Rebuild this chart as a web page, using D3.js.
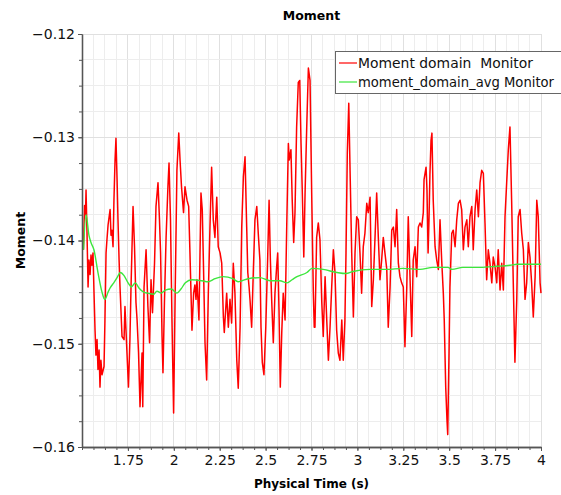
<!DOCTYPE html>
<html>
<head>
<meta charset="utf-8">
<script src="https://cdn.jsdelivr.net/npm/d3@7"></script>
<style>
  body { margin: 0; background: #fff; }
  svg { display: block; font-family: "DejaVu Sans", sans-serif; }
</style>
</head>
<body>
<svg id="chart" width="561" height="495"></svg>
<script>
// Moment monitor samples (time in s, moment)
const time = [
  1.508,1.514,1.519,1.522,1.527,1.533,1.538,1.544,1.549,1.554,1.560,1.565,1.571,1.576,1.582,1.587,1.593,1.598,1.603,1.609,
  1.620,1.625,1.631,1.636,1.642,1.653,1.658,1.663,1.669,1.674,1.680,1.685,1.691,1.696,1.702,1.707,1.718,1.729,1.734,1.745,
  1.753,1.761,1.767,1.778,1.786,1.794,1.800,1.808,1.816,1.827,1.831,1.838,1.849,1.859,1.868,1.876,1.884,1.895,1.903,1.914,
  1.922,1.928,1.936,1.941,1.949,1.958,1.968,1.974,1.982,1.990,1.999,2.007,2.017,2.027,2.034,2.042,2.053,2.061,2.072,2.081,
  2.088,2.099,2.108,2.115,2.121,2.126,2.137,2.148,2.155,2.161,2.170,2.179,2.188,2.197,2.206,2.215,2.224,2.234,2.242,2.252,
  2.261,2.270,2.275,2.288,2.297,2.306,2.315,2.324,2.333,2.343,2.351,2.361,2.370,2.379,2.388,2.397,2.403,2.410,2.415,2.424,
  2.433,2.442,2.452,2.460,2.469,2.475,2.482,2.491,2.501,2.511,2.519,2.526,2.533,2.542,2.551,2.560,2.566,2.573,2.580,2.588,
  2.596,2.606,2.615,2.624,2.629,2.638,2.645,2.653,2.660,2.669,2.678,2.686,2.693,2.700,2.708,2.715,2.724,2.733,2.742,2.751,
  2.760,2.765,2.769,2.778,2.787,2.796,2.806,2.814,2.824,2.833,2.842,2.851,2.860,2.869,2.878,2.887,2.896,2.905,2.915,2.923,
  2.932,2.938,2.945,2.953,2.960,2.969,2.978,2.987,2.996,3.005,3.014,3.023,3.032,3.041,3.051,3.059,3.069,3.078,3.087,3.096,
  3.105,3.114,3.123,3.132,3.141,3.150,3.160,3.168,3.178,3.187,3.196,3.205,3.214,3.223,3.232,3.241,3.250,3.259,3.269,3.277,
  3.287,3.296,3.304,3.314,3.323,3.332,3.341,3.350,3.359,3.363,3.374,3.379,3.385,3.390,3.395,3.401,3.406,3.413,3.423,3.432,
  3.441,3.450,3.459,3.468,3.473,3.481,3.488,3.492,3.499,3.504,3.514,3.522,3.532,3.541,3.550,3.559,3.568,3.577,3.586,3.596,
  3.604,3.613,3.623,3.631,3.641,3.650,3.659,3.668,3.677,3.686,3.695,3.704,3.713,3.722,3.732,3.740,3.750,3.759,3.767,3.777,
  3.786,3.795,3.804,3.813,3.822,3.831,3.840,3.849,3.858,3.868,3.876,3.886,3.895,3.904,3.913,3.922,3.931,3.940,3.949,3.958,
  3.968,3.977,3.985,3.995,4.000
];
const moment = [
  -0.1409,-0.1366,-0.1375,-0.1351,-0.1390,-0.1445,-0.1419,-0.1433,-0.1414,-0.1424,-0.1412,-0.1448,-0.1487,-0.1511,-0.1496,-0.1525,-0.1506,-0.1542,-0.1516,-0.1530,
  -0.1522,-0.1477,-0.1412,-0.1399,-0.1385,-0.1370,-0.1395,-0.1390,-0.1406,-0.1361,-0.1322,-0.1301,-0.1341,-0.1380,-0.1419,-0.1445,-0.1493,-0.1496,-0.1464,-0.1509,
  -0.1542,-0.1496,-0.1445,-0.1367,-0.1406,-0.1460,-0.1477,-0.1509,-0.1561,-0.1509,-0.1561,-0.1445,-0.1409,-0.1464,-0.1499,-0.1438,-0.1470,-0.1422,-0.1367,-0.1344,
  -0.1380,-0.1412,-0.1493,-0.1528,-0.1460,-0.1397,-0.1348,-0.1325,-0.1380,-0.1477,-0.1567,-0.1457,-0.1332,-0.1296,-0.1322,-0.1348,-0.1373,-0.1348,-0.1361,-0.1367,
  -0.1412,-0.1487,-0.1451,-0.1443,-0.1457,-0.1438,-0.1477,-0.1354,-0.1370,-0.1419,-0.1499,-0.1535,-0.1451,-0.1387,-0.1329,-0.1380,-0.1397,-0.1358,-0.1406,-0.1412,
  -0.1422,-0.1474,-0.1489,-0.1451,-0.1484,-0.1457,-0.1480,-0.1422,-0.1451,-0.1516,-0.1543,-0.1484,-0.1387,-0.1338,-0.1319,-0.1387,-0.1431,-0.1445,-0.1457,-0.1484,
  -0.1431,-0.1380,-0.1367,-0.1393,-0.1419,-0.1484,-0.1518,-0.1530,-0.1484,-0.1419,-0.1361,-0.1419,-0.1457,-0.1499,-0.1451,-0.1426,-0.1412,-0.1467,-0.1542,-0.1489,
  -0.1451,-0.1477,-0.1387,-0.1306,-0.1322,-0.1312,-0.1361,-0.1402,-0.1373,-0.1290,-0.1247,-0.1245,-0.1306,-0.1354,-0.1416,-0.1354,-0.1290,-0.1233,-0.1245,-0.1354,
  -0.1451,-0.1484,-0.1484,-0.1397,-0.1383,-0.1399,-0.1460,-0.1493,-0.1435,-0.1477,-0.1516,-0.1484,-0.1445,-0.1409,-0.1431,-0.1487,-0.1509,-0.1516,-0.1477,-0.1516,
  -0.1477,-0.1412,-0.1315,-0.1267,-0.1332,-0.1412,-0.1474,-0.1412,-0.1377,-0.1380,-0.1412,-0.1451,-0.1406,-0.1393,-0.1364,-0.1373,-0.1358,-0.1464,-0.1438,-0.1397,
  -0.1354,-0.1397,-0.1438,-0.1419,-0.1397,-0.1412,-0.1428,-0.1484,-0.1445,-0.1390,-0.1387,-0.1406,-0.1370,-0.1422,-0.1435,-0.1441,-0.1445,-0.1503,-0.1445,-0.1377,
  -0.1438,-0.1493,-0.1419,-0.1406,-0.1435,-0.1387,-0.1383,-0.1387,-0.1373,-0.1341,-0.1329,-0.1351,-0.1412,-0.1380,-0.1336,-0.1303,-0.1296,-0.1361,-0.1406,-0.1419,
  -0.1428,-0.1380,-0.1419,-0.1451,-0.1477,-0.1542,-0.1574,-0.1588,-0.1509,-0.1445,-0.1393,-0.1390,-0.1406,-0.1380,-0.1364,-0.1361,-0.1370,-0.1409,-0.1387,-0.1380,
  -0.1406,-0.1377,-0.1367,-0.1409,-0.1370,-0.1351,-0.1377,-0.1344,-0.1332,-0.1335,-0.1383,-0.1438,-0.1409,-0.1422,-0.1441,-0.1416,-0.1426,-0.1441,-0.1409,-0.1448,
  -0.1422,-0.1448,-0.1377,-0.1344,-0.1312,-0.1290,-0.1361,-0.1441,-0.1518,-0.1457,-0.1377,-0.1370,-0.1393,-0.1409,-0.1457,-0.1441,-0.1402,-0.1416,-0.1441,-0.1474,
  -0.1435,-0.1361,-0.1377,-0.1441,-0.1451
];

// Running average monitor
const avgTime = [
  1.508,1.522,1.538,1.549,1.565,1.587,1.609,1.624,1.642,1.653,1.673,1.691,1.709,1.729,1.751,1.769,1.790,1.810,1.836,1.859,
  1.891,1.908,1.932,1.954,1.986,2.017,2.039,2.063,2.099,2.154,2.186,2.224,2.268,2.322,2.350,2.371,2.404,2.469,2.524,2.578,
  2.617,2.644,2.671,2.725,2.753,2.813,2.889,2.938,2.976,3.069,3.161,3.248,3.341,3.412,3.466,3.493,3.515,3.575,3.668,3.760,
  3.831,3.869,4.000
];
const avgMoment = [
  -0.1409,-0.1375,-0.1395,-0.1402,-0.1409,-0.1431,-0.1450,-0.1457,-0.1450,-0.1446,-0.1441,-0.1436,-0.1431,-0.1434,-0.1441,-0.1445,-0.1441,-0.1446,-0.1450,-0.1451,
  -0.1452,-0.1449,-0.1451,-0.1448,-0.1447,-0.1451,-0.1447,-0.1441,-0.1438,-0.1439,-0.1440,-0.1437,-0.1435,-0.1437,-0.1440,-0.1439,-0.1437,-0.1436,-0.1439,-0.1439,
  -0.1441,-0.1438,-0.1435,-0.1431,-0.1427,-0.1428,-0.1431,-0.1432,-0.1430,-0.1428,-0.1428,-0.1427,-0.1428,-0.1426,-0.1426,-0.1426,-0.1428,-0.1426,-0.1426,-0.1425,
  -0.1424,-0.1423,-0.1423
];

const xTicks = [1.75, 2, 2.25, 2.5, 2.75, 3, 3.25, 3.5, 3.75, 4];
const xTickLabels = ["1.75", "2", "2.25", "2.5", "2.75", "3", "3.25", "3.5", "3.75", "4"];
const yTicks = [-0.16, -0.15, -0.14, -0.13, -0.12];
const yTickLabels = ["\u22120.16", "\u22120.15", "\u22120.14", "\u22120.13", "\u22120.12"];
const seriesNames = ["Moment domain  Monitor", "moment_domain_avg Monitor"];
const seriesColors = ["#ff0000", "#3ce63c"];

const svg = d3.select("#chart");
const m = { left: 82, right: 541, top: 34, bottom: 447 };

const x = d3.scaleLinear().domain([1.5, 4]).range([m.left, m.right]);
const y = d3.scaleLinear().domain([-0.16, -0.12]).range([m.bottom, m.top]);

const xMinor = d3.range(0, 41).map(i => 1.5 + i * 0.0625);
const yMinor = d3.range(0, 17).map(i => -0.16 + i * 0.0025);
const isMajor = (list, d) => list.some(t => Math.abs(t - d) < 1e-6);

// grid
const grid = svg.append("g");
grid.selectAll(".gx").data(xMinor).join("line")
  .attr("x1", d => x(d)).attr("x2", d => x(d))
  .attr("y1", m.top).attr("y2", m.bottom)
  .attr("stroke", d => isMajor(xTicks, d) ? "#e0e0e0" : "#ededed")
  .attr("stroke-width", 1).attr("shape-rendering", "crispEdges");
grid.selectAll(".gy").data(yMinor).join("line")
  .attr("x1", m.left).attr("x2", m.right)
  .attr("y1", d => y(d)).attr("y2", d => y(d))
  .attr("stroke", d => isMajor(yTicks, d) ? "#e0e0e0" : "#ededed")
  .attr("stroke-width", 1).attr("shape-rendering", "crispEdges");

// series
const redLine = d3.line().x((d, i) => x(time[i])).y((d, i) => y(moment[i]));
svg.append("path").datum(moment)
  .attr("d", redLine).attr("fill", "none")
  .attr("stroke", seriesColors[0]).attr("stroke-width", 1.5)
  .attr("stroke-linejoin", "round");

const greenLine = d3.line().x((d, i) => x(avgTime[i])).y((d, i) => y(avgMoment[i])).curve(d3.curveMonotoneX);
svg.append("path").datum(avgMoment)
  .attr("d", greenLine).attr("fill", "none")
  .attr("stroke", seriesColors[1]).attr("stroke-width", 1.4);

// axes
const axisColor = "#555";
const xAxis = svg.append("g").attr("transform", `translate(0,${m.bottom})`)
  .call(d3.axisBottom(x).tickValues(xTicks).tickFormat((d, i) => xTickLabels[i]).tickSize(4).tickSizeOuter(0).tickPadding(4));
const xAxisMinor = svg.append("g").attr("transform", `translate(0,${m.bottom})`)
  .call(d3.axisBottom(x).tickValues(xMinor).tickFormat("").tickSize(3).tickSizeOuter(0));
const yAxis = svg.append("g").attr("transform", `translate(${m.left},0)`)
  .call(d3.axisLeft(y).tickValues(yTicks).tickFormat((d, i) => yTickLabels[i]).tickSize(4).tickSizeOuter(0).tickPadding(3));
const yAxisMinor = svg.append("g").attr("transform", `translate(${m.left},0)`)
  .call(d3.axisLeft(y).tickValues(yMinor).tickFormat("").tickSize(3).tickSizeOuter(0));

[xAxis, xAxisMinor, yAxis, yAxisMinor].forEach(g => {
  g.selectAll("path.domain").attr("stroke", axisColor).attr("stroke-width", 1.3);
  g.selectAll(".tick line").attr("stroke", axisColor);
  g.selectAll("text").attr("fill", "#111").style("font-size", "14px").style("font-family", "DejaVu Sans, sans-serif");
});

// titles
svg.append("text").attr("x", (m.left + m.right) / 2).attr("y", 20)
  .attr("text-anchor", "middle").style("font-size", "12.5px").style("font-weight", "bold")
  .text("Moment");
svg.append("text").attr("x", (m.left + m.right) / 2).attr("y", 488)
  .attr("text-anchor", "middle").style("font-size", "12px").style("font-weight", "bold")
  .text("Physical Time (s)");
svg.append("text").attr("transform", `translate(25,${(m.top + m.bottom) / 2}) rotate(-90)`)
  .attr("text-anchor", "middle").style("font-size", "12.5px").style("font-weight", "bold")
  .text("Moment");

// legend
const legendWidths = [175, 196];
const lg = svg.append("g");
lg.append("rect").attr("x", 335.5).attr("y", 51.5).attr("width", 240).attr("height", 42)
  .attr("fill", "#fff").attr("stroke", "#666").attr("stroke-width", 1);
seriesNames.forEach((name, i) => {
  const yy = 63 + i * 19;
  lg.append("line").attr("x1", 339).attr("x2", 357).attr("y1", yy).attr("y2", yy)
    .attr("stroke", seriesColors[i]).attr("stroke-width", 1.2);
  lg.append("text").attr("x", 358).attr("y", yy + 5)
    .attr("xml:space", "preserve")
    .attr("textLength", legendWidths[i]).attr("lengthAdjust", "spacingAndGlyphs")
    .style("font-size", "13.3px").style("white-space", "pre").attr("fill", "#111")
    .text(name);
});
</script>
</body>
</html>
